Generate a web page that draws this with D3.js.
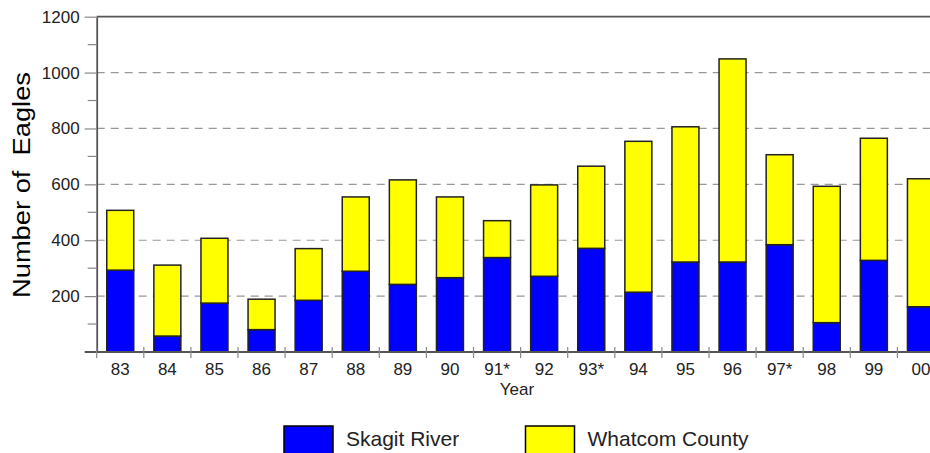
<!DOCTYPE html>
<html>
<head>
<meta charset="utf-8">
<script src="https://cdn.jsdelivr.net/npm/d3@7/dist/d3.min.js"></script>
<style>
  html, body { margin: 0; padding: 0; background: #fff; }
  svg { display: block; font-family: "Liberation Sans", Arial, sans-serif; }
</style>
</head>
<body>
<svg id="chart" width="930" height="453"></svg>
<script>
const years = ["83","84","85","86","87","88","89","90","91*","92","93*","94","95","96","97*","98","99","00"];
const skagit = [293, 57, 175, 80, 185, 289, 242, 266, 338, 271, 371, 214, 322, 322, 384, 105, 328, 162];
const whatcom = [214, 254, 232, 109, 185, 266, 374, 289, 132, 327, 294, 540, 484, 727, 322, 488, 437, 458];
const yTicks = [200, 400, 600, 800, 1000, 1200];
const yMinorTicks = [100, 300, 500, 700, 900, 1100];
const seriesNames = ["Skagit River", "Whatcom County"];
const seriesColors = ["#0000ff", "#ffff00"];

const svg = d3.select("#chart");
const mLeft = 96.7, mTop = 16.7, mBottom = 352, step = 47.1;
const mRight = mLeft + step * years.length;

const x = d3.scaleBand().domain(years).range([mLeft, mRight]).paddingInner(0.427).paddingOuter(0.2135);
const y = d3.scaleLinear().domain([0, 1200]).range([mBottom, mTop]);

const axisColor = "#555";

// gridlines
svg.append("g").selectAll("line").data(yTicks.filter(d => d < 1200)).join("line")
  .attr("x1", mLeft).attr("x2", 930)
  .attr("y1", d => y(d)).attr("y2", d => y(d))
  .attr("stroke", "#999").attr("stroke-width", 1.2).attr("stroke-dasharray", "8,6");

// top line
svg.append("line").attr("x1", mLeft).attr("x2", 930).attr("y1", y(1200)).attr("y2", y(1200))
  .attr("stroke", axisColor).attr("stroke-width", 1.8);

// stacked bars
const data = years.map((yr, i) => ({ yr, s: skagit[i], w: whatcom[i] }));
const stack = d3.stack().keys(["s", "w"])(data);
svg.append("g").selectAll("g").data(stack).join("g")
  .attr("fill", (d, i) => seriesColors[i])
  .selectAll("rect").data(d => d).join("rect")
  .attr("x", d => x(d.data.yr))
  .attr("width", x.bandwidth())
  .attr("y", d => y(d[1]))
  .attr("height", d => y(d[0]) - y(d[1]))
  .attr("stroke", "#222").attr("stroke-width", 1.5);

// left axis
const yAxis = d3.axisLeft(y).tickValues(yTicks).tickFormat(d3.format("d")).tickSize(12).tickPadding(5).tickSizeOuter(0);
const gy = svg.append("g").attr("transform", `translate(${mLeft},0)`).call(yAxis);
gy.select(".domain").attr("stroke", axisColor).attr("stroke-width", 1.8);
gy.selectAll(".tick line").attr("stroke", "#888").attr("stroke-width", 1.2);
gy.selectAll(".tick text").attr("font-size", 17).attr("fill", "#222").attr("font-family", "Liberation Sans, Arial, sans-serif");
svg.append("g").selectAll("line").data(yMinorTicks).join("line")
  .attr("x1", mLeft - 9).attr("x2", mLeft)
  .attr("y1", d => y(d)).attr("y2", d => y(d))
  .attr("stroke", "#888").attr("stroke-width", 1.2);

// bottom axis line
svg.append("line").attr("x1", mLeft - 12).attr("x2", 930).attr("y1", mBottom).attr("y2", mBottom)
  .attr("stroke", axisColor).attr("stroke-width", 1.8);
// category boundary ticks
const bounds = d3.range(years.length + 1).map(i => x.range()[0] + i * x.step());
svg.append("g").selectAll("line").data(bounds).join("line")
  .attr("x1", d => d).attr("x2", d => d).attr("y1", mBottom - 5).attr("y2", mBottom + 6)
  .attr("stroke", "#888").attr("stroke-width", 1.2);
// category labels
svg.append("g").selectAll("text").data(years).join("text")
  .attr("x", d => x(d) + x.bandwidth() / 2).attr("y", 375)
  .attr("text-anchor", "middle").attr("font-size", 17).attr("fill", "#222")
  .text(d => d);

// axis titles
svg.append("text").attr("x", 517).attr("y", 395).attr("text-anchor", "middle")
  .attr("font-size", 17).attr("fill", "#222").text("Year");
svg.append("text").attr("transform", "translate(30,185) rotate(-90)")
  .attr("text-anchor", "middle").attr("font-size", 23).attr("fill", "#000")
  .attr("textLength", 226).attr("lengthAdjust", "spacingAndGlyphs")
  .style("white-space", "pre").text("Number of  Eagles");

// legend
const legendX = [284, 525.5];
const lg = svg.append("g").selectAll("g").data(seriesNames).join("g")
  .attr("transform", (d, i) => `translate(${legendX[i]},426)`);
lg.append("rect").attr("width", 49).attr("height", 34)
  .attr("fill", (d, i) => seriesColors[i]).attr("stroke", "#000").attr("stroke-width", 1.5);
lg.append("text").attr("x", 62).attr("y", 20).attr("font-size", 21).attr("fill", "#222")
  .text(d => d);
</script>
</body>
</html>
